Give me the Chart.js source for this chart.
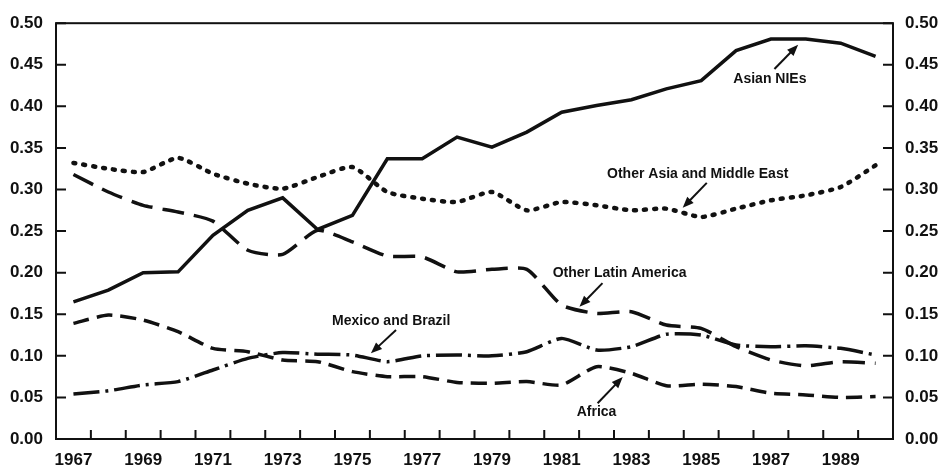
<!DOCTYPE html>
<html>
<head>
<meta charset="utf-8">
<script src="https://cdn.jsdelivr.net/npm/chart.js@4/dist/chart.umd.min.js"></script>
<style>
  html, body { margin: 0; padding: 0; background: #fff; }
  #wrap { width: 941px; height: 468px; position: relative; }
</style>
</head>
<body>
<div id="wrap"><canvas id="chart"></canvas></div>
<script>
const years = ['1967', '1968', '1969', '1970', '1971', '1972', '1973', '1974', '1975', '1976', '1977', '1978',
               '1979', '1980', '1981', '1982', '1983', '1984', '1985', '1986', '1987', '1988', '1989', '1990'];

const asianNIEs = [0.165, 0.179, 0.200, 0.201, 0.245, 0.275, 0.290, 0.252, 0.269, 0.337, 0.337, 0.363,
                   0.351, 0.369, 0.393, 0.401, 0.408, 0.421, 0.431, 0.467, 0.481, 0.481, 0.476, 0.460];
const otherAsia = [0.332, 0.325, 0.321, 0.338, 0.319, 0.307, 0.301, 0.315, 0.327, 0.297, 0.289, 0.285,
                   0.297, 0.275, 0.285, 0.281, 0.275, 0.277, 0.267, 0.277, 0.287, 0.293, 0.303, 0.329];
const otherLatAm = [0.318, 0.297, 0.281, 0.273, 0.262, 0.227, 0.222, 0.251, 0.237, 0.220, 0.219, 0.201,
                    0.204, 0.204, 0.161, 0.151, 0.153, 0.137, 0.133, 0.111, 0.095, 0.088, 0.093, 0.091];
const mexBrazil = [0.054, 0.058, 0.065, 0.069, 0.083, 0.097, 0.104, 0.102, 0.101, 0.093, 0.100, 0.101,
                   0.100, 0.105, 0.121, 0.107, 0.111, 0.126, 0.125, 0.113, 0.111, 0.112, 0.109, 0.101];
const africa = [0.139, 0.149, 0.143, 0.129, 0.109, 0.105, 0.095, 0.093, 0.081, 0.075, 0.075, 0.068,
                0.067, 0.069, 0.065, 0.087, 0.079, 0.064, 0.066, 0.063, 0.055, 0.053, 0.050, 0.051];

const yTicks = [0, 0.05, 0.10, 0.15, 0.20, 0.25, 0.30, 0.35, 0.40, 0.45, 0.50];

// labels placed in data units: [text, yearIndex, value, arrowFrom, arrowTo]
const notes = [
    ['Asian NIEs', 19.97, 0.433, [20.1, 0.445], [20.78, 0.474]],
    ['Other Asia and Middle East', 17.9, 0.3185, [18.16, 0.308], [17.47, 0.278]],
    ['Other Latin America', 15.66, 0.1995, [15.17, 0.1875], [14.51, 0.159]],
    ['Mexico and Brazil', 9.11, 0.142, [9.25, 0.131], [8.53, 0.103]],
    ['Africa', 15.0, 0.0325, [15.03, 0.043], [15.75, 0.0745]]
];

const ink = '#111';
const fontFam = '"Liberation Sans", Arial, sans-serif';

function arrow(ctx, x1, y1, x2, y2) {
    const ang = Math.atan2(y2 - y1, x2 - x1);
    const head = 12;
    ctx.beginPath();
    ctx.moveTo(x1, y1);
    ctx.lineTo(x2 - Math.cos(ang) * head * 0.7, y2 - Math.sin(ang) * head * 0.7);
    ctx.stroke();
    ctx.beginPath();
    ctx.moveTo(x2, y2);
    ctx.lineTo(x2 - head * Math.cos(ang - 0.38), y2 - head * Math.sin(ang - 0.38));
    ctx.lineTo(x2 - head * Math.cos(ang + 0.38), y2 - head * Math.sin(ang + 0.38));
    ctx.closePath();
    ctx.fill();
}

const framePlugin = {
    id: 'frame',
    afterDatasetsDraw(chart) {
        const ctx = chart.ctx;
        const a = chart.chartArea;
        const x = chart.scales.x;
        const y = chart.scales.y;
        ctx.save();
        ctx.strokeStyle = ink;
        ctx.fillStyle = ink;
        ctx.lineWidth = 2;
        ctx.strokeRect(a.left, a.top, a.right - a.left, a.bottom - a.top);

        // inward tick marks
        ctx.beginPath();
        for (let i = 0; i < years.length - 1; i++) {
            const px = x.getPixelForValue(i + 0.5);
            ctx.moveTo(px, a.bottom);
            ctx.lineTo(px, a.bottom - 9);
        }
        yTicks.forEach(v => {
            const py = y.getPixelForValue(v);
            ctx.moveTo(a.left, py);
            ctx.lineTo(a.left + 10, py);
            ctx.moveTo(a.right, py);
            ctx.lineTo(a.right - 10, py);
        });
        ctx.stroke();

        // annotations
        ctx.font = 'bold 14px ' + fontFam;
        ctx.textAlign = 'center';
        ctx.textBaseline = 'middle';
        ctx.lineWidth = 2;
        notes.forEach(n => {
            ctx.fillText(n[0], x.getPixelForValue(n[1]), y.getPixelForValue(n[2]));
            arrow(ctx,
                x.getPixelForValue(n[3][0]), y.getPixelForValue(n[3][1]),
                x.getPixelForValue(n[4][0]), y.getPixelForValue(n[4][1]));
        });
        ctx.restore();
    }
};

function line(data, dash, width, tension) {
    return {
        data: data,
        borderColor: ink,
        borderWidth: width,
        borderDash: dash,
        borderCapStyle: 'butt',
        pointRadius: 0,
        tension: tension,
        fill: false
    };
}

const dots = line(otherAsia, [2, 8], 4.5, 0.2);
dots.borderCapStyle = 'round';

const yAxis = (pos, w) => ({
    type: 'linear',
    position: pos,
    min: 0,
    max: 0.5,
    grid: { display: false, drawTicks: false },
    border: { display: false },
    ticks: {
        stepSize: 0.05,
        padding: pos === 'left' ? 13 : 12,
        color: ink,
        font: { family: fontFam, size: 17, weight: 'bold' },
        callback: v => v.toFixed(2)
    },
    afterFit: s => { s.width = w; }
});

new Chart(document.getElementById('chart'), {
    type: 'line',
    data: {
        labels: years,
        datasets: [
            line(asianNIEs, [], 3.5, 0),
            dots,
            line(otherLatAm, [22, 10], 3.5, 0.2),
            line(mexBrazil, [26, 6, 3, 6], 3.5, 0.2),
            line(africa, [16, 8], 3.5, 0.2)
        ]
    },
    options: {
        responsive: true,
        maintainAspectRatio: false,
        animation: false,
        layout: { padding: { top: 23, left: 0, right: 0, bottom: 0 } },
        plugins: {
            legend: { display: false },
            tooltip: { enabled: false }
        },
        scales: {
            x: {
                type: 'category',
                offset: true,
                grid: { display: false, drawTicks: false },
                border: { display: false },
                ticks: {
                    autoSkip: false,
                    maxRotation: 0,
                    padding: 11,
                    color: ink,
                    font: { family: fontFam, size: 17, weight: 'bold' },
                    callback: function (v, i) { return i % 2 === 0 ? years[i] : ''; }
                },
                afterFit: s => { s.height = 29; }
            },
            y: yAxis('left', 56),
            y2: yAxis('right', 48)
        }
    },
    plugins: [framePlugin]
});
</script>
</body>
</html>
